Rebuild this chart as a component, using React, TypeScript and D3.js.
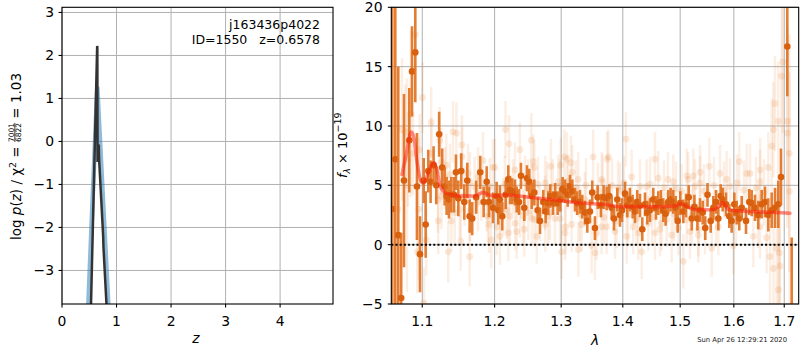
import React from "react";
import * as d3 from "d3";

// ---- left panel: log p(z) ----
const zTicks = [0, 1, 2, 3, 4];
const pzTicks = [-3, -2, -1, 0, 1, 2, 3];

// smooth p(z) (blue)
const pzSmooth: [number, number][] = [
  [0.45, -4.8], [0.55, -1.7], [0.62, 0.45], [0.648, 1.27],
  [0.7, -0.05], [0.78, -2.05], [0.87, -4.3],
];
// chi2 curve (dark)
const pzChi2: [number, number][] = [
  [0.5, -5.5], [0.645, 2.22], [0.648, 2.2], [0.652, -0.45], [0.66, -0.45],
  [0.662, -0.1], [0.675, -0.1], [0.68, -0.4], [0.755, -2.2], [0.76, -2.45],
  [0.85, -4.6],
];

// ---- right panel: spectrum ----
const lamTicks = [1.1, 1.2, 1.3, 1.4, 1.5, 1.6, 1.7];
const fluxTicks = [-5, 0, 5, 10, 15, 20];

// binned spectrum: [lambda, flux, err]
const binned: [number, number, number][] = [
  [1.0611, 3.0, 40], [1.0649, 7.2, 30], [1.0687, 0.8, 14.2], [1.0725, -4.5, 5.5],
  [1.0761, 5.4, 7.3], [1.083, 8.8, 4.4], [1.0865, 14.6, 3.8], [1.0908, 16.2, 4.2],
  [1.093, 4.9, 4.5], [1.097, -0.8, 3.2], [1.1019, 5.4, 1.9], [1.1045, 1.7, 2.8],
  [1.108, 6.2, 1.8], [1.1111, 5.3, 1.8], [1.1151, 6.7, 1.6], [1.1187, 5.0, 1.6],
  [1.1226, 9.3, 1.9], [1.1267, 6.5, 1.6], [1.13, 4.9, 1.6], [1.1327, 4.1, 1.6],
  [1.1359, 3.8, 1.6], [1.1391, 4.2, 1.5], [1.1428, 4.2, 1.5], [1.1455, 6.1, 1.5],
  [1.1487, 3.9, 1.5], [1.1528, 6.2, 1.5], [1.157, 3.6, 1.5], [1.1612, 5.4, 1.5],
  [1.1645, 2.4, 1.4], [1.1681, 2.2, 1.4], [1.1737, 4.0, 1.4], [1.1794, 6.1, 1.4],
  [1.1843, 3.6, 1.3], [1.1886, 5.3, 1.3], [1.1919, 3.6, 1.3], [1.1976, 3.1, 1.3],
  [1.2029, 4.1, 1.2], [1.2053, 2.9, 1.2], [1.2077, 3.8, 1.2], [1.2111, 2.4, 1.2],
  [1.2161, 4.2, 1.2], [1.2199, 5.5, 1.2], [1.2224, 4.6, 1.2], [1.2258, 4.5, 1.1],
  [1.2298, 4.4, 1.1], [1.2323, 3.8, 1.1], [1.2357, 3.6, 1.1], [1.2386, 5.8, 1.1],
  [1.2436, 3.1, 1.1], [1.2476, 5.6, 1.1], [1.2511, 5.3, 1.1], [1.2547, 4.1, 1.1],
  [1.2587, 4.4, 1.1], [1.2638, 2.9, 1.1], [1.2673, 2.0, 1.1], [1.2723, 3.6, 1.0],
  [1.276, 2.8, 1.0], [1.28, 3.5, 1.0], [1.2831, 4.1, 1.0], [1.2873, 3.5, 1.0],
  [1.2908, 4.2, 1.0], [1.2945, 3.5, 1.0], [1.2986, 3.8, 1.0], [1.3023, 4.7, 1.0],
  [1.306, 4.5, 1.0], [1.3102, 4.2, 1.0], [1.3138, 4.9, 1.0], [1.3175, 4.5, 1.0],
  [1.3218, 3.8, 1.0], [1.3254, 3.5, 1.0], [1.3297, 3.6, 1.0], [1.3334, 3.2, 1.0],
  [1.3377, 2.7, 1.0], [1.3415, 2.0, 1.0], [1.3458, 2.8, 1.0], [1.3495, 4.4, 1.0],
  [1.3539, 1.4, 1.0], [1.3583, 4.0, 1.0], [1.3637, 3.3, 1.0], [1.3681, 4.0, 1.0],
  [1.3731, 3.9, 1.0], [1.3774, 4.1, 1.0], [1.3814, 3.1, 1.0], [1.3852, 2.2, 1.0],
  [1.3908, 3.8, 1.0], [1.3953, 2.5, 1.0], [1.3987, 2.9, 1.0], [1.4037, 4.3, 1.0],
  [1.4076, 3.3, 1.0], [1.4121, 3.8, 1.0], [1.4167, 3.2, 1.0], [1.4207, 2.8, 1.0],
  [1.4246, 3.6, 1.0], [1.4292, 3.3, 1.0], [1.4332, 1.3, 1.0], [1.4379, 3.4, 1.0],
  [1.4419, 2.7, 1.0], [1.4465, 2.9, 1.0], [1.4523, 3.8, 1.0], [1.457, 3.1, 1.0],
  [1.461, 3.5, 1.0], [1.4657, 3.6, 1.0], [1.4698, 2.9, 1.0], [1.474, 2.6, 1.0],
  [1.4787, 3.6, 1.0], [1.4829, 3.8, 1.0], [1.4876, 3.6, 1.0], [1.4919, 3.1, 1.0],
  [1.4955, 2.0, 1.0], [1.5002, 3.5, 1.0], [1.5057, 2.8, 1.0], [1.5106, 3.3, 1.0],
  [1.5155, 4.0, 1.0], [1.5211, 2.2, 1.0], [1.5259, 3.2, 1.0], [1.5314, 2.2, 1.0],
  [1.5362, 2.9, 1.0], [1.5412, 2.7, 1.0], [1.5459, 1.4, 1.0], [1.5501, 4.2, 1.0],
  [1.5561, 2.0, 1.0], [1.561, 3.1, 1.0], [1.5661, 3.6, 1.0], [1.5704, 2.2, 1.0],
  [1.5749, 4.1, 1.0], [1.5787, 3.8, 1.0], [1.585, 3.4, 1.0], [1.5913, 2.4, 1.0],
  [1.5958, 2.0, 1.0], [1.6009, 3.4, 1.0], [1.6055, 2.7, 1.0], [1.6105, 2.2, 1.0],
  [1.6152, 3.1, 1.0], [1.6236, 2.0, 1.1], [1.63, 3.6, 1.1], [1.6347, 3.5, 1.1],
  [1.6412, 3.1, 1.1], [1.6477, 2.5, 1.2], [1.6545, 3.4, 1.2], [1.6611, 3.6, 1.3],
  [1.6677, 2.5, 1.4], [1.6745, 2.9, 1.5], [1.6812, 3.1, 1.7], [1.6879, 3.4, 2.0],
  [1.6934, 5.7, 2.4], [1.7062, 16.7, 4.2], [1.7153, -12, 12.6],
];

// individual beam spectra (faint): [lambda, flux, err]
const beams: [number, number, number][] = [
  [1.0683, 3.0, 12], [1.0735, 9.7, 6], [1.0778, 9.5, 4], [1.08, 5.0, 9],
  [1.0813, 7.2, 4], [1.085, 11.0, 7], [1.0878, 7.7, 3.5], [1.0908, 17.7, 3],
  [1.0934, -0.6, 3.5], [1.0955, 3.0, 6], [1.0966, 8.0, 3], [1.1003, 12.4, 3],
  [1.1022, -4.9, 3], [1.1053, 0.4, 3], [1.1119, 10.3, 3], [1.1121, 7.7, 3],
  [1.121, 3.8, 2.8], [1.1214, 2.0, 2.8], [1.1233, 8.8, 2.8], [1.1255, 7.0, 2.8],
  [1.1257, 4.1, 2.8], [1.1305, 5.6, 2.6], [1.1323, 6.7, 2.6], [1.1349, -0.6, 2.6],
  [1.1373, 5.9, 2.6], [1.1391, 2.0, 2.6], [1.1414, 9.5, 2.6], [1.1437, 2.7, 2.6],
  [1.1462, 9.4, 2.6], [1.151, 3.0, 2.5], [1.152, 0.3, 2.5], [1.1537, 8.4, 2.5],
  [1.154, 7.4, 2.5], [1.1575, 4.1, 2.5], [1.1621, 6.0, 2.5], [1.1645, -1.0, 2.5],
  [1.1649, 5.3, 2.5], [1.1651, 2.8, 2.5], [1.1715, 4.9, 2.5], [1.1762, 3.6, 2.5],
  [1.1764, 5.7, 2.5], [1.1809, 4.4, 2.4], [1.1833, 7.1, 2.4], [1.1886, 3.5, 2.4],
  [1.1904, 2.4, 2.4], [1.1919, 1.7, 2.4], [1.1933, 4.9, 2.4], [1.1952, 0.4, 2.4],
  [1.1976, 6.5, 2.4], [1.2005, 6.5, 2.4], [1.2029, 1.5, 2.4], [1.2077, 0.7, 2.4],
  [1.2079, 2.5, 2.4], [1.2126, 3.2, 2.4], [1.215, 5.1, 2.4], [1.2158, 9.7, 2.4],
  [1.2175, 2.9, 2.4], [1.2199, 1.0, 2.4], [1.221, 8.5, 2.4], [1.2224, 2.4, 2.4],
  [1.2268, 4.9, 2.3], [1.2298, 6.3, 2.3], [1.23, 1.8, 2.3], [1.2323, 1.1, 2.3],
  [1.2371, 8.0, 2.3], [1.2373, 2.9, 2.3], [1.2421, 2.4, 2.3], [1.2436, 1.3, 2.3],
  [1.2446, 5.2, 2.3], [1.2491, 4.9, 2.3], [1.2496, 2.7, 2.3], [1.2541, 8.8, 2.3],
  [1.2547, 4.5, 2.3], [1.2549, 2.2, 2.3], [1.2571, 7.0, 2.3], [1.2587, 6.5, 2.3],
  [1.2589, 2.1, 2.3], [1.2623, 0.7, 2.3], [1.2643, 5.1, 2.3], [1.2673, 2.6, 2.3],
  [1.275, 3.5, 2.3], [1.2752, 5.2, 2.3], [1.2754, 1.7, 2.3], [1.278, 4.7, 2.3],
  [1.28, 2.4, 2.3], [1.2826, 2.7, 2.3], [1.2841, 6.6, 2.3], [1.2867, 4.9, 2.3],
  [1.2903, 2.2, 2.3], [1.2955, 5.3, 2.3], [1.2981, 2.2, 2.3], [1.2983, 4.9, 2.3],
  [1.2992, 6.7, 2.3], [1.3007, -0.6, 2.3], [1.3048, 7.4, 2.3], [1.306, 1.0, 2.3],
  [1.307, 1.5, 2.3], [1.3086, 7.2, 2.3], [1.3107, 5.3, 2.3], [1.3154, 6.9, 2.3],
  [1.3165, 1.7, 2.3], [1.3175, 6.1, 2.3], [1.3233, 4.8, 2.3], [1.327, 5.5, 2.3],
  [1.3272, -0.4, 2.3], [1.3297, 2.6, 2.3], [1.3324, 1.7, 2.3], [1.3377, 3.8, 2.3],
  [1.3393, 5.0, 2.3], [1.3485, -0.1, 2.3], [1.351, 7.4, 2.3], [1.3539, -0.7, 2.3],
  [1.3566, 1.0, 2.3], [1.3588, 4.6, 2.3], [1.3648, 1.5, 2.3], [1.365, 5.5, 2.3],
  [1.3665, 5.3, 2.3], [1.3686, 2.3, 2.3], [1.3731, 1.5, 2.3], [1.3741, 7.2, 2.3],
  [1.3758, 7.4, 2.3], [1.3819, 5.0, 2.3], [1.3869, 1.1, 2.3], [1.3897, 2.0, 2.3],
  [1.3919, 4.8, 2.3], [1.3953, 4.6, 2.3], [1.402, 5.2, 2.3], [1.4053, 8.9, 2.3],
  [1.4065, 0.7, 2.3], [1.4087, 2.5, 2.3], [1.415, 5.7, 2.3], [1.4177, 1.5, 2.3],
  [1.4235, 2.2, 2.3], [1.4263, 1.0, 2.3], [1.4292, 4.9, 2.3], [1.4321, -0.6, 2.3],
  [1.4407, 4.9, 2.3], [1.4436, 1.8, 2.3], [1.4465, 5.1, 2.3], [1.45, 2.3, 2.3],
  [1.4552, 7.2, 2.3], [1.4554, 1.0, 2.3], [1.461, 5.6, 2.3], [1.464, 1.3, 2.3],
  [1.467, 1.8, 2.3], [1.471, 4.8, 2.3], [1.4758, 2.1, 2.3], [1.4781, 5.5, 2.3],
  [1.4847, 0.8, 2.3], [1.4876, 5.3, 2.3], [1.4889, 2.6, 2.3], [1.4925, 4.7, 2.3],
  [1.4967, 1.4, 2.3], [1.5027, 4.5, 2.3], [1.5057, -1.4, 2.3], [1.5118, 2.1, 2.3],
  [1.512, 5.8, 2.3], [1.5148, 5.5, 2.3], [1.5178, 1.1, 2.3], [1.5215, 2.4, 2.3],
  [1.5239, 5.8, 2.3], [1.5269, 4.9, 2.3], [1.5331, 0.8, 2.3], [1.5333, 1.3, 2.3],
  [1.5362, 5.2, 2.3], [1.5364, 6.1, 2.3], [1.5436, 4.5, 2.3], [1.5455, 1.5, 2.3],
  [1.5535, 6.6, 2.4], [1.558, -0.3, 2.4], [1.5623, 5.0, 2.4], [1.5661, 2.2, 2.4],
  [1.5704, 1.5, 2.4], [1.5736, 6.0, 2.4], [1.5812, 4.6, 2.4], [1.5863, 5.5, 2.4],
  [1.5926, 4.9, 2.4], [1.599, -0.1, 2.4], [1.6042, 2.5, 2.4], [1.6061, 5.2, 2.4],
  [1.6105, 7.0, 2.5], [1.6197, 4.6, 2.5], [1.6249, 6.0, 2.5], [1.6314, 6.0, 2.5],
  [1.638, 0.7, 2.6], [1.6432, 4.8, 2.6], [1.6472, 2.3, 2.6], [1.6511, 1.5, 2.7],
  [1.6513, 5.3, 2.7], [1.6515, 6.3, 2.7], [1.6591, 4.4, 2.8], [1.6645, 0.6, 3],
  [1.6677, 6.5, 3], [1.6711, -1.0, 4], [1.6745, 8.3, 4], [1.6778, 9.7, 4],
  [1.678, -2.0, 5], [1.6812, 11.9, 4], [1.6846, -0.3, 5], [1.6879, 10.4, 5],
  [1.6881, -3.8, 6], [1.6899, -0.7, 6], [1.6913, -1.8, 7], [1.6947, 14.2, 6],
  [1.6968, 15.4, 6], [1.7062, 9.4, 8], [1.7066, 10.4, 8], [1.7104, 7.7, 10],
  [1.7106, 4.5, 10],
];

// best-fit model
const modelLam = [
  1.0735, 1.0787, 1.0856, 1.0891, 1.093, 1.0987, 1.1022, 1.1075, 1.1151, 1.1196,
  1.1237, 1.13, 1.1391, 1.151, 1.1715, 1.1833, 1.1919, 1.2005, 1.215, 1.2496,
  1.3007, 1.3324, 1.3703, 1.3953, 1.464, 1.4939, 1.5015, 1.5129, 1.5269, 1.561,
  1.5704, 1.5787, 1.5863, 1.5958, 1.6314, 1.7118,
];
const modelFlux = [
  5.9, 7.5, 9.5, 9.0, 7.0, 5.3, 5.2, 6.0, 6.9, 6.3,
  5.0, 4.4, 4.2, 4.1, 4.1, 4.4, 4.2, 4.1, 4.2, 4.0,
  3.7, 3.5, 3.4, 3.2, 3.2, 3.3, 3.45, 3.2, 2.95, 2.95,
  3.2, 3.55, 3.1, 2.9, 2.8, 2.65,
];

const FONT = "DejaVu Sans, sans-serif";
const GRID = "#b0b0b0";
const FS = 13.9;

export default function App() {
  // left panel scales
  const xl = d3.scaleLinear().domain([0, 4.97]).range([62, 333]);
  const yl = d3.scaleLinear().domain([-3.78, 3.12]).range([304, 7.3]);
  // right panel scales
  const xr = d3.scaleLog().domain([1.0598, 1.7298]).range([391.3, 798.7]);
  const yr = d3.scaleLinear().domain([-5, 20]).range([304, 7.3]);

  const pzLine = d3
    .line<[number, number]>()
    .x((d) => xl(d[0]))
    .y((d) => yl(d[1]));

  const modelLine = d3
    .line<number>()
    .x((d) => xr(d))
    .y((_, i) => yr(modelFlux[i]))
    .curve(d3.curveMonotoneX);

  const [lx0, lx1] = xl.range();
  const [ly0, ly1] = [yl(3.12), yl(-3.78)];
  const [rx0, rx1] = xr.range();
  const [ry0, ry1] = [yr(20), yr(-5)];

  return (
    <svg
      width={800}
      height={350}
      style={{ position: "absolute", left: 0, top: 0, background: "#fff" }}
      fontFamily={FONT}
    >
      <defs>
        <clipPath id="clipL">
          <rect x={lx0} y={ly0} width={lx1 - lx0} height={ly1 - ly0} />
        </clipPath>
        <clipPath id="clipR">
          <rect x={rx0} y={ry0} width={rx1 - rx0} height={ry1 - ry0} />
        </clipPath>
      </defs>

      {/* ---------- left panel ---------- */}
      <g>
        {zTicks.map((t) => (
          <line key={"gz" + t} x1={xl(t)} x2={xl(t)} y1={ly0} y2={ly1} stroke={GRID} strokeWidth={1} />
        ))}
        {pzTicks.map((t) => (
          <line key={"gp" + t} x1={lx0} x2={lx1} y1={yl(t)} y2={yl(t)} stroke={GRID} strokeWidth={1} />
        ))}
        <g clipPath="url(#clipL)">
          <path d={pzLine(pzSmooth) || ""} fill="none" stroke="#1f77b4" strokeOpacity={0.5} strokeWidth={4.5} />
          <path d={pzLine(pzChi2) || ""} fill="none" stroke="#333" strokeWidth={2.5} strokeLinejoin="miter" />
        </g>
        <rect x={lx0} y={ly0} width={lx1 - lx0} height={ly1 - ly0} fill="none" stroke="#000" strokeWidth={1.1} />
        {zTicks.map((t) => (
          <g key={"tz" + t}>
            <line x1={xl(t)} x2={xl(t)} y1={ly1} y2={ly1 + 3.5} stroke="#000" strokeWidth={1.1} />
            <text x={xl(t)} y={325.5} fontSize={FS} textAnchor="middle">{t}</text>
          </g>
        ))}
        {pzTicks.map((t) => (
          <g key={"tp" + t}>
            <line x1={lx0 - 3.5} x2={lx0} y1={yl(t)} y2={yl(t)} stroke="#000" strokeWidth={1.1} />
            <text x={54} y={yl(t)} dy="0.35em" fontSize={FS} textAnchor="end">
              {t < 0 ? "\u2212" + Math.abs(t) : t}
            </text>
          </g>
        ))}
        <text x={196} y={343} fontSize={FS} fontStyle="italic" textAnchor="middle">z</text>
        <g transform="translate(21,240) rotate(-90)">
          <text x={0} y={0} fontSize={13.5}>
            <tspan>log </tspan>
            <tspan fontStyle="italic">p</tspan>
            <tspan>(</tspan>
            <tspan fontStyle="italic">z</tspan>
            <tspan>) / χ</tspan>
            <tspan dy={-5.5} fontSize={9.5}>2</tspan>
            <tspan dy={5.5}> = </tspan>
            <tspan dy={-7.5} fontSize={7.5} style={{ textDecoration: "underline" }}>7001</tspan>
            <tspan dx={-19.1} dy={7.5} fontSize={7.5}>6822</tspan>
            <tspan> = 1.03</tspan>
          </text>
        </g>
        <text x={320} y={28.5} fontSize={12.5} textAnchor="end">j163436p4022</text>
        <text x={320} y={43.5} fontSize={12.5} textAnchor="end">
          {"ID=1550\u00a0\u00a0\u00a0z=0.6578"}
        </text>
      </g>

      {/* ---------- right panel ---------- */}
      <g>
        {lamTicks.map((t) => (
          <line key={"gl" + t} x1={xr(t)} x2={xr(t)} y1={ry0} y2={ry1} stroke={GRID} strokeWidth={1} />
        ))}
        {fluxTicks.map((t) => (
          <line key={"gf" + t} x1={rx0} x2={rx1} y1={yr(t)} y2={yr(t)} stroke={GRID} strokeWidth={1} />
        ))}
        <g clipPath="url(#clipR)">
          {/* faint beam spectra */}
          <g fill="#e8853a" stroke="#e8853a">
            {beams.map(([l, f, e], i) => (
              <g key={"b" + i}>
                <line x1={xr(l)} x2={xr(l)} y1={yr(f - e)} y2={yr(f + e)} strokeWidth={2.5} strokeOpacity={0.14} />
                <circle cx={xr(l)} cy={yr(f)} r={3.4} stroke="none" fillOpacity={0.18} />
              </g>
            ))}
          </g>
          {/* binned spectrum */}
          {binned.map(([l, f, e], i) => (
            <g key={"d" + i}>
              <line x1={xr(l)} x2={xr(l)} y1={yr(f - e)} y2={yr(f + e)} stroke="#e0701e" strokeWidth={2.6} strokeOpacity={0.9} />
              <circle cx={xr(l)} cy={yr(f)} r={3.3} fill="#d9600f" />
            </g>
          ))}
          {/* model */}
          <path d={modelLine(modelLam) || ""} fill="none" stroke="#ff1a0a" strokeOpacity={0.5} strokeWidth={3.5} strokeLinecap="round" />
          <line x1={rx0} x2={rx1} y1={yr(0)} y2={yr(0)} stroke="#000" strokeWidth={2} strokeDasharray="2,2.2" />
        </g>
        <rect x={rx0} y={ry0} width={rx1 - rx0} height={ry1 - ry0} fill="none" stroke="#000" strokeWidth={1.1} />
        {lamTicks.map((t) => (
          <g key={"tl" + t}>
            <line x1={xr(t)} x2={xr(t)} y1={ry1} y2={ry1 + 3.5} stroke="#000" strokeWidth={1.1} />
            <text x={xr(t)} y={325.5} fontSize={FS} textAnchor="middle">{t.toFixed(1)}</text>
          </g>
        ))}
        {fluxTicks.map((t) => (
          <g key={"tf" + t}>
            <line x1={rx0 - 3.5} x2={rx0} y1={yr(t)} y2={yr(t)} stroke="#000" strokeWidth={1.1} />
            <text x={382.5} y={yr(t)} dy="0.35em" fontSize={FS} textAnchor="end">
              {t < 0 ? "\u2212" + Math.abs(t) : t}
            </text>
          </g>
        ))}
        <text x={595} y={345} fontSize={FS} fontStyle="italic" textAnchor="middle">λ</text>
        <g transform="translate(347,178) rotate(-90)">
          <text x={0} y={0} fontSize={13}>
            <tspan fontStyle="italic">f</tspan>
            <tspan dy={3} fontSize={9} fontStyle="italic">λ</tspan>
            <tspan dy={-3}> × 10</tspan>
            <tspan dy={-6} fontSize={9.5}>−19</tspan>
          </text>
        </g>
      </g>

      <text x={787} y={342} fontSize={6.8} textAnchor="end" fill="#222">
        Sun Apr 26 12:29:21 2020
      </text>
    </svg>
  );
}
